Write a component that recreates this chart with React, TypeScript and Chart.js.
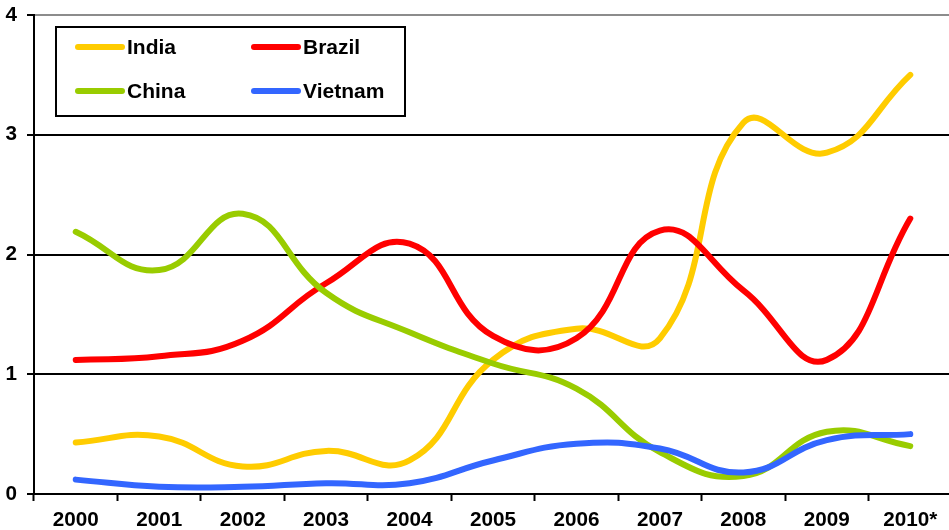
import React, { useEffect, useRef } from "react";
import { Chart, registerables } from "chart.js";

Chart.register(...registerables);

const years = ["2000", "2001", "2002", "2003", "2004", "2005", "2006", "2007", "2008", "2009", "2010*"];
const india = [0.43, 0.48, 0.23, 0.36, 0.28, 1.12, 1.38, 1.3, 3.1, 2.85, 3.5];
const brazil = [1.12, 1.15, 1.28, 1.76, 2.09, 1.32, 1.3, 2.2, 1.7, 1.12, 2.3];
const china = [2.19, 1.87, 2.34, 1.68, 1.35, 1.09, 0.88, 0.35, 0.15, 0.52, 0.4];
const vietnam = [0.12, 0.06, 0.06, 0.09, 0.09, 0.28, 0.42, 0.38, 0.18, 0.45, 0.5];
const yTicks = [0, 1, 2, 3, 4];

const FONT = "'Liberation Sans', Arial, sans-serif";

const boxLegend = {
  id: "boxLegend",
  afterDraw(chart: any) {
    const ctx = chart.ctx;
    ctx.save();
    ctx.fillStyle = "#ffffff";
    ctx.fillRect(56, 27, 349, 89);
    ctx.strokeStyle = "#000000";
    ctx.lineWidth = 2;
    ctx.strokeRect(56, 27, 349, 89);
    const pos = [
      { x: 78, y: 47 },
      { x: 254, y: 47 },
      { x: 78, y: 91 },
      { x: 254, y: 91 },
    ];
    chart.data.datasets.forEach((ds: any, i: number) => {
      const p = pos[i];
      ctx.strokeStyle = ds.borderColor;
      ctx.lineWidth = 6;
      ctx.lineCap = "round";
      ctx.beginPath();
      ctx.moveTo(p.x, p.y);
      ctx.lineTo(p.x + 44, p.y);
      ctx.stroke();
      ctx.fillStyle = "#000000";
      ctx.font = "bold 21px " + FONT;
      ctx.textBaseline = "middle";
      ctx.textAlign = "left";
      ctx.fillText(ds.label, p.x + 49, p.y + 1);
    });
    ctx.restore();
  },
};

export default function App() {
  const ref = useRef<HTMLCanvasElement | null>(null);
  useEffect(() => {
    if (!ref.current) return;
    const mk = (label: string, data: number[], color: string, order: number) => ({
      label,
      data,
      borderColor: color,
      backgroundColor: color,
      borderWidth: 6,
      pointRadius: 0,
      tension: 0.45,
      fill: false,
      order,
      borderCapStyle: "round" as const,
      borderJoinStyle: "round" as const,
    });
    const chart = new Chart(ref.current, {
      type: "line",
      data: {
        labels: years,
        datasets: [
          mk("India", india, "#FFCC00", 3),
          mk("Brazil", brazil, "#FF0000", 2),
          mk("China", china, "#99CC00", 1),
          mk("Vietnam", vietnam, "#3366FF", 0),
        ],
      },
      options: {
        responsive: false,
        animation: false,
        devicePixelRatio: 1,
        layout: { padding: { top: 15, right: 0, left: 0, bottom: 0 } },
        plugins: { legend: { display: false }, tooltip: { enabled: false } },
        scales: {
          x: {
            type: "category",
            offset: true,
            grid: {
              offset: true,
              drawOnChartArea: false,
              drawTicks: true,
              tickLength: 7,
              tickColor: "#000000",
              tickWidth: 2,
            },
            border: { display: true, color: "#000000", width: 2 },
            ticks: {
              color: "#000000",
              font: { family: FONT, size: 20.7, weight: "bold" },
              padding: 7,
              maxRotation: 0,
              autoSkip: false,
            },
            afterFit(scale: any) {
              scale.height = 36;
              scale.paddingLeft = 0;
              scale.paddingRight = 0;
            },
          },
          y: {
            min: 0,
            max: 4,
            afterBuildTicks(scale: any) {
              scale.ticks = yTicks.map((v) => ({ value: v }));
            },
            grid: {
              color: (c: any) => (c.tick && c.tick.value === 4 ? "#8c8c8c" : "#000000"),
              lineWidth: 2,
              drawTicks: true,
              tickLength: 7,
              tickColor: "#000000",
            },
            border: { display: true, color: "#000000", width: 2 },
            ticks: {
              color: "#000000",
              font: { family: FONT, size: 20.7, weight: "bold" },
              padding: 10,
            },
            afterFit(scale: any) {
              scale.width = 34;
              scale.paddingTop = 0;
              scale.paddingBottom = 0;
            },
          },
        },
      },
      plugins: [boxLegend],
    });
    return () => chart.destroy();
  }, []);
  return (
    <div style={{ position: "fixed", left: 0, top: 0, width: 949, height: 530, overflow: "hidden", background: "#fff" }}>
      <canvas ref={ref} width={952} height={530} style={{ display: "block" }} />
    </div>
  );
}
